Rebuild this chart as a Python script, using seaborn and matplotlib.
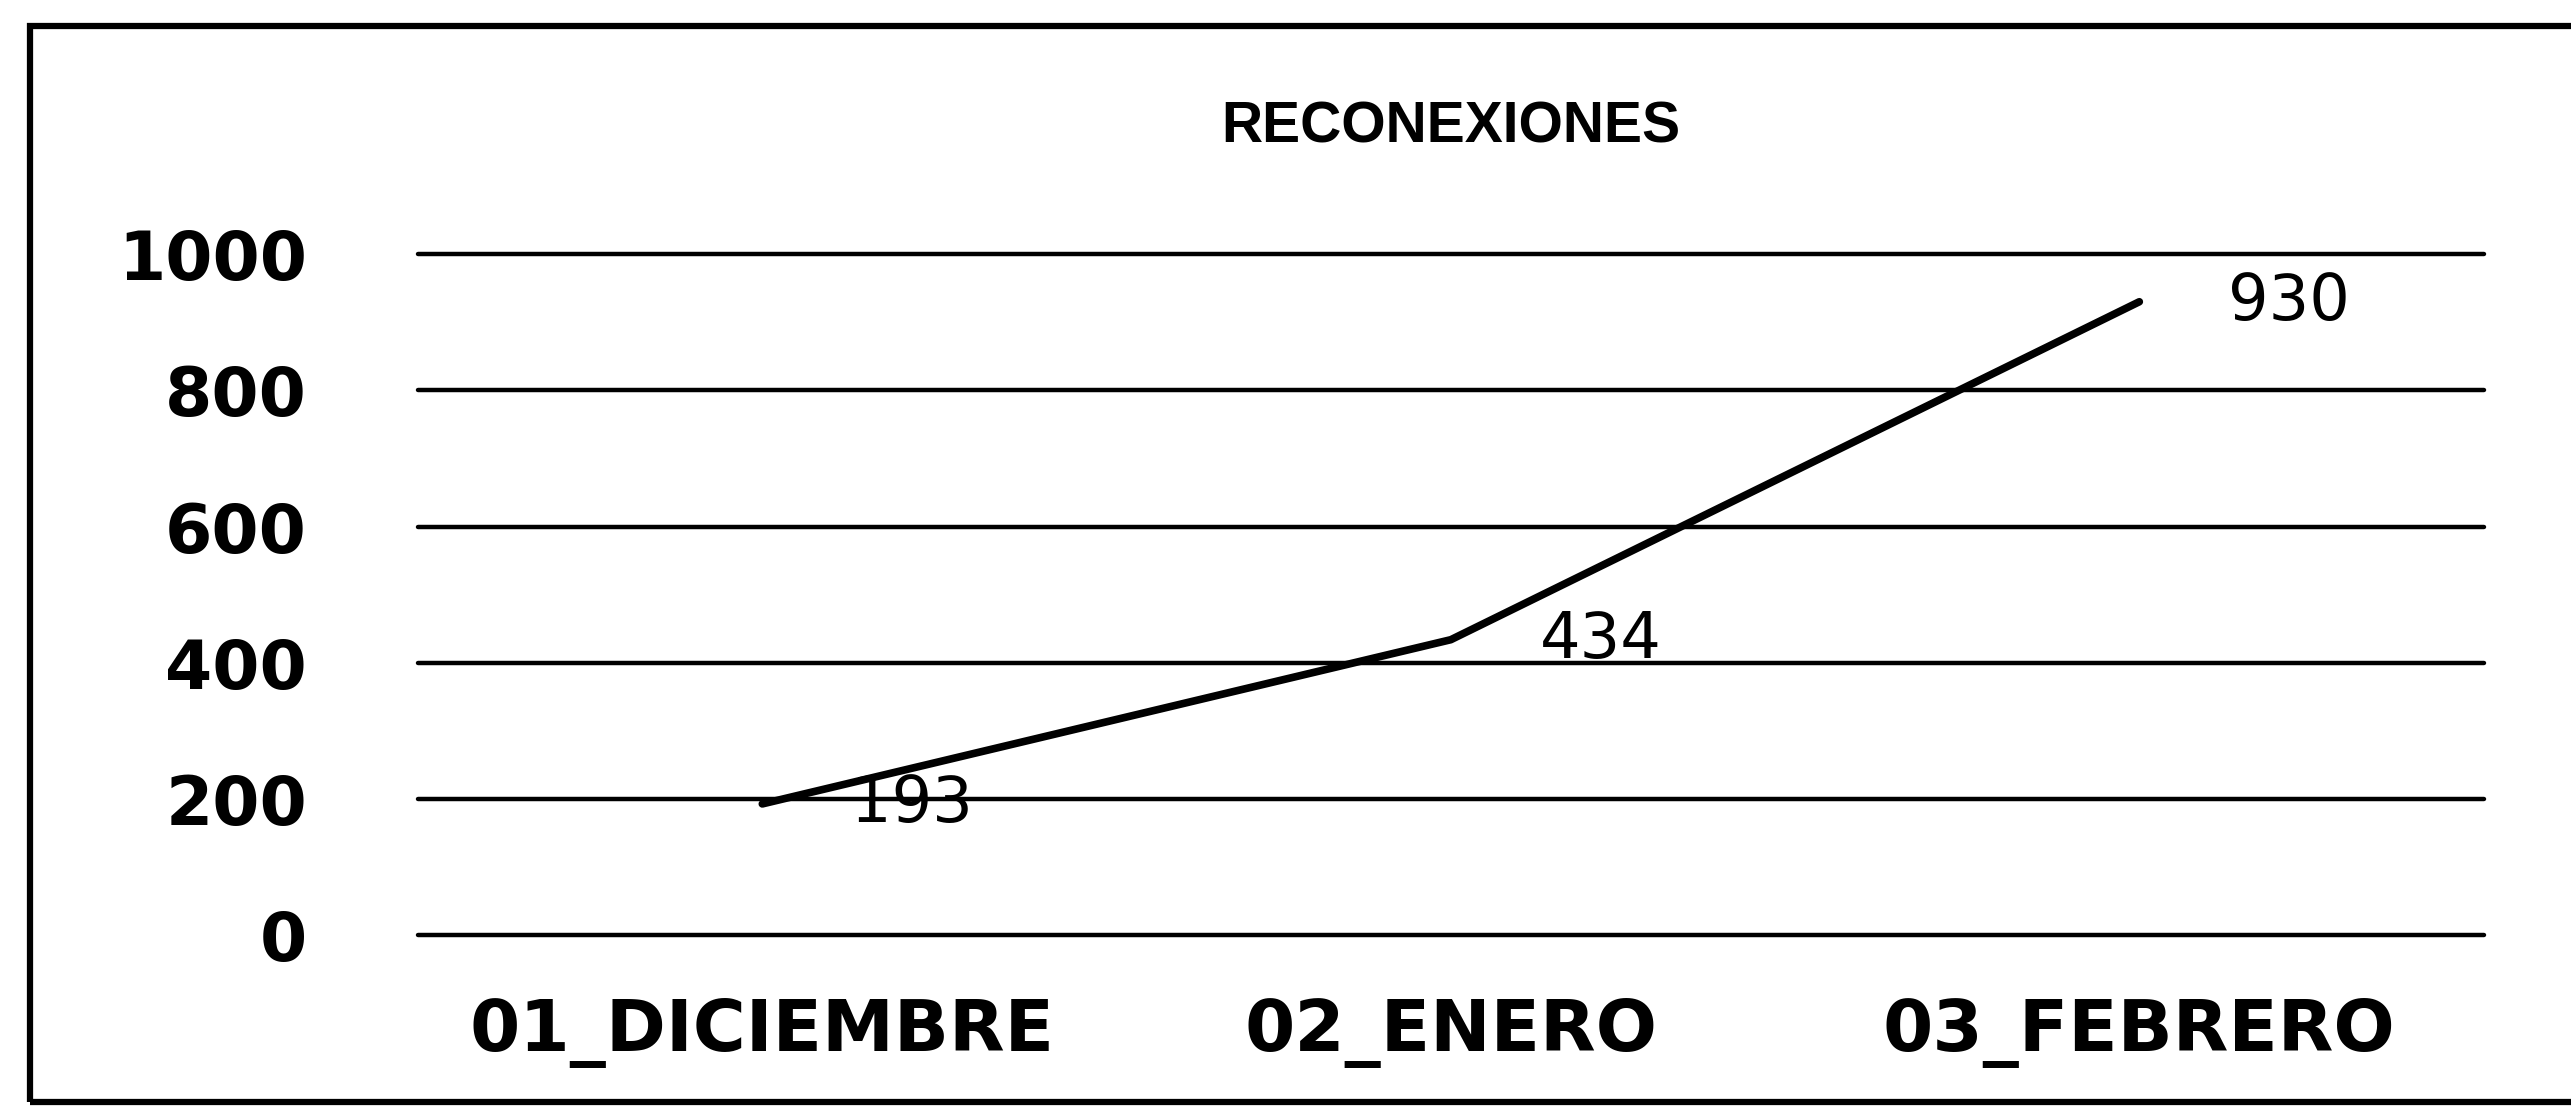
import matplotlib
matplotlib.use("Agg")
import matplotlib.pyplot as plt
import seaborn as sns
import pandas as pd
from matplotlib.patches import Rectangle

# datos del grafico
meses = ["01_DICIEMBRE", "02_ENERO", "03_FEBRERO"]
reconexiones = [193, 434, 930]
y_ticks = [0, 200, 400, 600, 800, 1000]
titulo = "RECONEXIONES"

sns.set_theme(style="white")
plt.rcParams["font.family"] = ["DejaVu Sans"]
plt.rcParams["text.color"] = "black"
plt.rcParams["xtick.color"] = "black"
plt.rcParams["ytick.color"] = "black"

df = pd.DataFrame({"mes": meses, "valor": reconexiones})

fig = plt.figure(figsize=(25.71, 11.07), dpi=100)
ax = fig.add_axes([0.1626, 0.155, 0.8034, 0.6155])

sns.lineplot(data=df, x="mes", y="valor", ax=ax, color="black", linewidth=5.5, sort=False)

ax.set_ylim(0, 1000)
ax.set_xlim(-0.5, len(meses) - 0.5)
ax.set_yticks(y_ticks)
ax.set_yticklabels([str(v) for v in y_ticks], fontsize=49, fontweight="bold")
ax.set_xticks(range(len(meses)))
ax.set_xticklabels(meses, fontsize=52, fontweight="bold")
ax.tick_params(axis="y", length=0, pad=80)
ax.tick_params(axis="x", length=0, pad=45)
ax.set_xlabel("")
ax.set_ylabel("")
for s in ax.spines.values():
    s.set_visible(False)
ax.grid(axis="y", color="black", linewidth=3.2)
ax.grid(axis="x", visible=False)
for gl in ax.get_ygridlines():
    gl.set_clip_on(False)
ax.set_axisbelow(True)

# etiquetas de datos a la derecha de cada punto
for i, v in enumerate(reconexiones):
    ax.annotate(str(v), xy=(i, v), xytext=(64, 0), textcoords="offset points",
                ha="left", va="center", fontsize=46, color="black")

ax.set_title(titulo, fontsize=41, fontweight="bold", pad=80, color="black",
             family=["Liberation Sans", "DejaVu Sans"])

# marco exterior del grafico
fig.patches.append(Rectangle((30 / 2571, 5 / 1107), 2600 / 2571, 1076 / 1107,
                             transform=fig.transFigure, fill=False,
                             edgecolor="black", linewidth=4.5))

fig.savefig("out.png", dpi=100)
